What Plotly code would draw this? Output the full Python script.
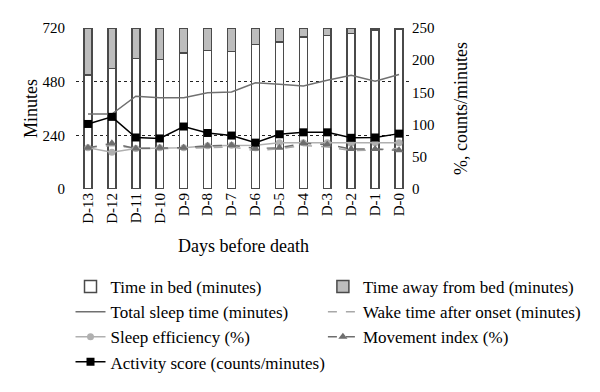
import plotly.graph_objects as go

days = ["D-13", "D-12", "D-11", "D-10", "D-9", "D-8", "D-7",
        "D-6", "D-5", "D-4", "D-3", "D-2", "D-1", "D-0"]
time_in_bed = [510, 538, 583, 579, 608, 620, 616, 646, 658, 680, 687, 695, 710, 714]
time_away = [210, 182, 137, 141, 112, 100, 104, 74, 62, 40, 33, 25, 10, 6]
total_sleep = [335, 335, 415, 408, 408, 430, 434, 475, 469, 461, 486, 509, 482, 512]
wake_after_onset = [185, 195, 182, 180, 182, 186, 188, 172, 180, 195, 188, 172, 175, 182]
sleep_efficiency = [64, 57, 63, 64, 64, 67, 68, 68, 72, 72, 72, 71, 72, 72]
movement_index = [64, 71, 63, 64, 64, 67, 68, 63, 64, 71, 69, 62, 62, 60]
activity_score = [101, 112, 80, 78.5, 97, 87, 83, 72, 85, 88, 88, 79.5, 80, 86]

FONT = "Liberation Serif"

fig = go.Figure()
fig.add_trace(go.Bar(x=days, y=time_in_bed, name="Time in bed (minutes)",
                     marker=dict(color="white", line=dict(color="#4a4a4a", width=1.5)),
                     width=0.33, legend="legend"))
fig.add_trace(go.Bar(x=days, y=time_away, name="Time away from bed (minutes)",
                     marker=dict(color="#bdbdbd", line=dict(color="#4a4a4a", width=1.5)),
                     width=0.33, legend="legend2"))
fig.add_trace(go.Scatter(x=days, y=total_sleep, name="Total sleep time (minutes)",
                         mode="lines", line=dict(color="#707070", width=1.5),
                         legend="legend"))
fig.add_trace(go.Scatter(x=days, y=wake_after_onset, name="Wake time after onset (minutes)",
                         mode="lines", line=dict(color="#a8a8a8", width=1.5, dash="dash"),
                         legend="legend2"))
fig.add_trace(go.Scatter(x=days, y=sleep_efficiency, name="Sleep efficiency (%)",
                         mode="lines+markers", yaxis="y2",
                         line=dict(color="#b0b0b0", width=1.5),
                         marker=dict(symbol="circle", size=7, color="#b0b0b0"),
                         legend="legend"))
fig.add_trace(go.Scatter(x=days, y=movement_index, name="Movement index (%)",
                         mode="lines+markers", yaxis="y2",
                         line=dict(color="#6e6e6e", width=1.5, dash="dash"),
                         marker=dict(symbol="triangle-up", size=8, color="#6e6e6e"),
                         legend="legend2"))
fig.add_trace(go.Scatter(x=days, y=activity_score, name="Activity score (counts/minutes)",
                         mode="lines+markers", yaxis="y2",
                         line=dict(color="black", width=1.5),
                         marker=dict(symbol="square", size=8, color="black"),
                         legend="legend"))

legend_common = dict(orientation="v", y=-0.497, yanchor="top", xanchor="left",
                     itemwidth=30, traceorder="normal", tracegroupgap=0,
                     font=dict(size=17), bgcolor="rgba(0,0,0,0)")

fig.update_layout(
    width=600, height=392,
    barmode="stack",
    paper_bgcolor="white", plot_bgcolor="white",
    font=dict(family=FONT, size=15, color="black"),
    margin=dict(l=67.5, r=196.5, t=20, b=211, autoexpand=False),
    xaxis=dict(type="category", range=[-0.5, 13.5], tickangle=-90,
               showline=False, showgrid=False, ticks="",
               title=dict(text="Days before death", standoff=16),
               tickfont=dict(size=15)),
    yaxis=dict(range=[0, 720], tickvals=[0, 240, 480, 720],
               showgrid=True, gridcolor="#222", griddash="dot", gridwidth=1,
               zeroline=False, showline=False, ticks="", ticklabelstandoff=10,
               title=dict(text="Minutes", standoff=0)),
    yaxis2=dict(range=[0, 250], tickvals=[0, 50, 100, 150, 200, 250],
                overlaying="y", side="right", showgrid=False, zeroline=False,
                showline=False, ticks="",
                title=dict(text="%, counts/minutes", standoff=20)),
    legend=dict(x=-0.0164, **legend_common),
    legend2=dict(x=0.737, **legend_common),
    showlegend=True,
)

fig.write_html("out.html")
